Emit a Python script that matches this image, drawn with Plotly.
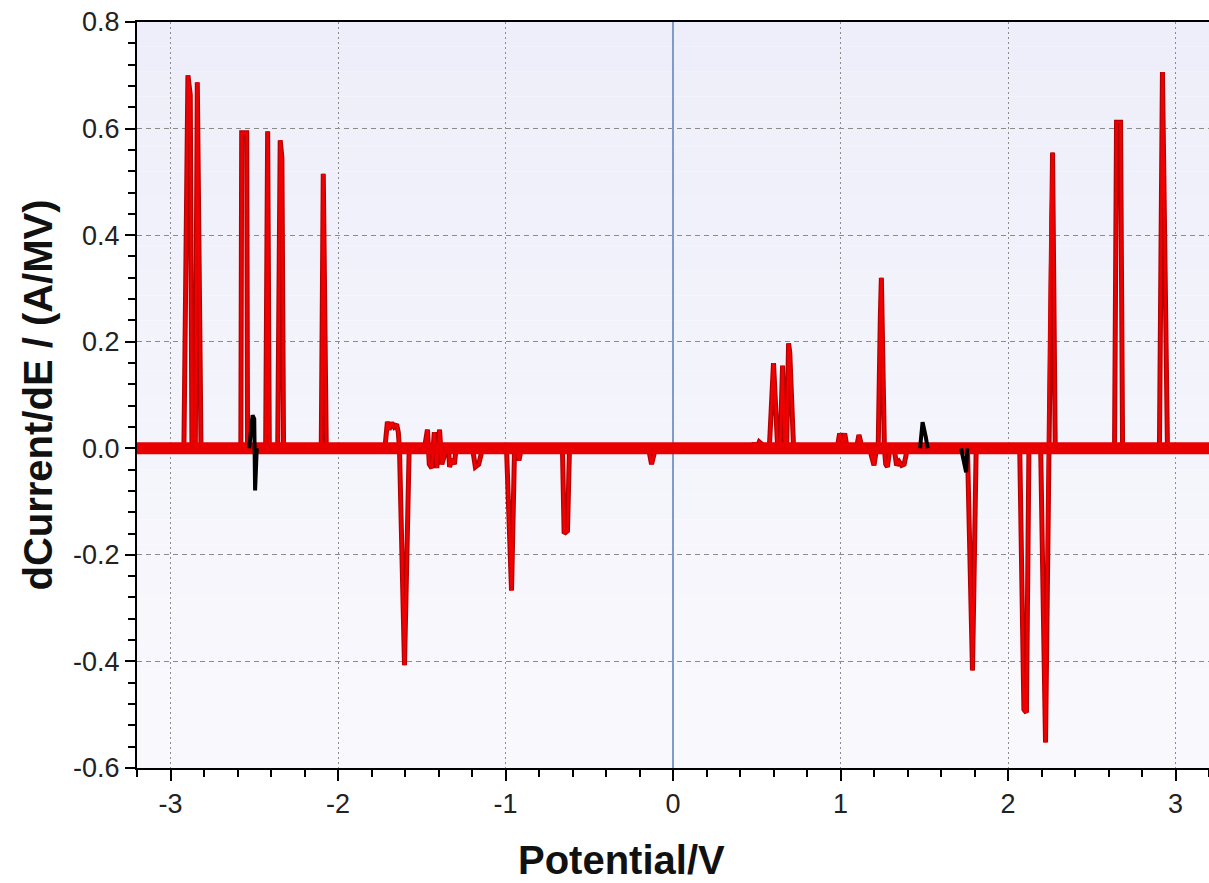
import plotly.graph_objects as go

# ---------------- data ----------------
# red curve: potential (V) and dCurrent/dE (A/MV)
red_pot = [-3.20, -2.92, -2.896, -2.882, -2.872, -2.852, -2.840, -2.818,
           -2.580, -2.575, -2.545, -2.540,
           -2.432, -2.420, -2.410,
           -2.360, -2.345, -2.335, -2.325,
           -2.100, -2.088, -2.070,
           -1.720, -1.705, -1.695, -1.680, -1.665, -1.650, -1.640,
           -1.633, -1.603, -1.575,
           -1.484, -1.466, -1.455, -1.440, -1.425, -1.410, -1.394, -1.380, -1.352,
           -1.340, -1.334, -1.320, -1.305, -1.295,
           -1.197, -1.180, -1.160, -1.137,
           -0.994, -0.964, -0.946, -0.934, -0.920, -0.905,
           -0.660, -0.650, -0.630, -0.618,
           -0.310, -0.300, -0.290,
           -0.146, -0.128, -0.105,
           0.470, 0.485, 0.500, 0.515, 0.530, 0.545,
           0.575, 0.600, 0.625, 0.640, 0.654, 0.668, 0.678, 0.690, 0.697, 0.720,
           0.980, 0.995, 1.010, 1.025, 1.040,
           1.095, 1.110, 1.130,
           1.173, 1.200, 1.215, 1.225, 1.238, 1.244, 1.262, 1.270, 1.280, 1.295,
           1.320, 1.335, 1.350, 1.365, 1.380, 1.400,
           1.758, 1.788, 1.810,
           2.070, 2.095, 2.110, 2.125,
           2.195, 2.224, 2.242, 2.255, 2.266, 2.282,
           2.636, 2.648, 2.672, 2.684,
           2.904, 2.922, 2.952, 3.20]
red_cur = [0.000, 0.000, 0.700, 0.663, 0.000, 0.000, 0.687, 0.000,
           0.000, 0.592, 0.592, 0.000,
           0.000, 0.595, 0.000,
           0.000, 0.578, 0.545, 0.000,
           0.000, 0.515, 0.000,
           0.000, 0.050, 0.035, 0.048, 0.040, 0.045, 0.030,
           0.000, -0.407, 0.000,
           0.000, 0.035, -0.030, -0.037, 0.030, -0.037, 0.035, -0.030, 0.000,
           0.000, -0.035, -0.020, -0.030, 0.000,
           0.000, -0.035, -0.030, 0.000,
           0.000, -0.267, 0.000, 0.000, -0.023, 0.000,
           0.000, -0.160, -0.155, 0.000,
           0.000, -0.006, 0.000,
           0.000, -0.030, 0.000,
           0.000, 0.010, 0.000, 0.012, 0.008, 0.000,
           0.000, 0.160, 0.000, 0.000, 0.155, 0.000, 0.000, 0.197, 0.180, 0.000,
           0.000, 0.028, 0.010, 0.028, 0.000,
           0.000, 0.025, 0.000,
           0.000, -0.032, 0.000, 0.000, 0.250, 0.320, 0.000, -0.030, -0.035, 0.000,
           0.000, -0.032, -0.025, -0.032, -0.030, 0.000,
           0.000, -0.417, 0.000,
           0.000, -0.490, -0.496, 0.000,
           0.000, -0.552, 0.000, 0.430, 0.555, 0.000,
           0.000, 0.612, 0.612, 0.000,
           0.000, 0.706, 0.000, 0.000]

# baseline band (noisy trace around zero)
base_pot = [-3.20, 3.20]
base_cur = [0.0, 0.0]

# black curve (second scan)
black_pot = [-2.530, -2.510, -2.500, -2.495, -2.485, None,
             1.475, 1.490, 1.510, 1.520, None,
             1.720, 1.740, 1.750, 1.757]
black_cur = [0.000, 0.062, 0.055, -0.079, 0.000, None,
             0.000, 0.049, 0.020, 0.000, None,
             0.000, -0.030, -0.045, 0.000]

x_ticks = [-3, -2, -1, 0, 1, 2, 3]
y_ticks = [-0.6, -0.4, -0.2, 0.0, 0.2, 0.4, 0.6, 0.8]
y_ticklabels = ["-0.6", "-0.4", "-0.2", "0.0", "0.2", "0.4", "0.6", "0.8"]

# ---------------- figure ----------------
fig = go.Figure()

# gradient background of plot area
n_bands = 30
top_rgb = (238, 238, 250)
bot_rgb = (249, 249, 253)
for i in range(n_bands):
    t = i / (n_bands - 1)
    c = tuple(round(top_rgb[k] + (bot_rgb[k] - top_rgb[k]) * t) for k in range(3))
    fig.add_shape(type="rect", xref="paper", yref="paper",
                  x0=0, x1=1, y0=1 - (i + 1) / n_bands, y1=1 - i / n_bands,
                  fillcolor="rgb(%d,%d,%d)" % c, line_width=0, layer="below")

# spikes: dark outline then bright red core
fig.add_trace(go.Scatter(x=red_pot, y=red_cur, mode="lines",
                         line=dict(color="#B00000", width=5), hoverinfo="skip",
                         showlegend=False))
fig.add_trace(go.Scatter(x=red_pot, y=red_cur, mode="lines",
                         line=dict(color="#F00000", width=2.6),
                         showlegend=False, name="red"))
# thick noisy baseline
fig.add_trace(go.Scatter(x=base_pot, y=base_cur, mode="lines",
                         line=dict(color="#E80000", width=12),
                         showlegend=False, hoverinfo="skip"))
# black curve
fig.add_trace(go.Scatter(x=black_pot, y=black_cur, mode="lines",
                         line=dict(color="#000000", width=4),
                         showlegend=False, name="black", connectgaps=False))

tick_font = dict(family="Liberation Sans, Arial, sans-serif", size=27, color="#222222")
title_font = dict(family="Liberation Sans, Arial, sans-serif", size=40, color="#111111")

fig.update_layout(
    width=1209, height=883,
    margin=dict(l=137, r=0, t=22, b=115),
    paper_bgcolor="white",
    plot_bgcolor="rgba(0,0,0,0)",
    showlegend=False,
)
fig.add_annotation(text="<b>Potential/V</b>", xref="paper", yref="paper",
                   x=0.4524, y=-0.123, xanchor="center", yanchor="middle",
                   showarrow=False, font=title_font, borderpad=0)
fig.update_xaxes(
    range=[-3.2, 3.2], tickvals=x_ticks, ticktext=[str(v) for v in x_ticks],
    ticks="outside", ticklen=11, tickwidth=2, tickcolor="black",
    showline=True, linecolor="black", linewidth=2, mirror=True,
    showgrid=True, gridcolor="#8c8c8c", gridwidth=1, griddash="2px,3px",
    zeroline=True, zerolinecolor="#7f9bcb", zerolinewidth=1.5,
    minor=dict(dtick=0.2, tick0=0, ticks="outside", ticklen=7, tickwidth=2,
               tickcolor="black", showgrid=False),
    tickfont=tick_font,
)
fig.update_yaxes(
    range=[-0.6, 0.8], tickvals=y_ticks, ticktext=y_ticklabels,
    ticks="outside", ticklen=10, tickwidth=2, tickcolor="black",
    showline=True, linecolor="black", linewidth=2, mirror=False,
    showgrid=True, gridcolor="#8c8c8c", gridwidth=1, griddash="5px,4px",
    zeroline=False,
    minor=dict(dtick=0.04, tick0=0, ticks="outside", ticklen=7, tickwidth=2,
               tickcolor="black", showgrid=False),
    tickfont=tick_font,
    title=dict(text="<b>dCurrent/dE / (A/MV)</b>", font=title_font, standoff=8),
)

fig.write_html("out.html")
